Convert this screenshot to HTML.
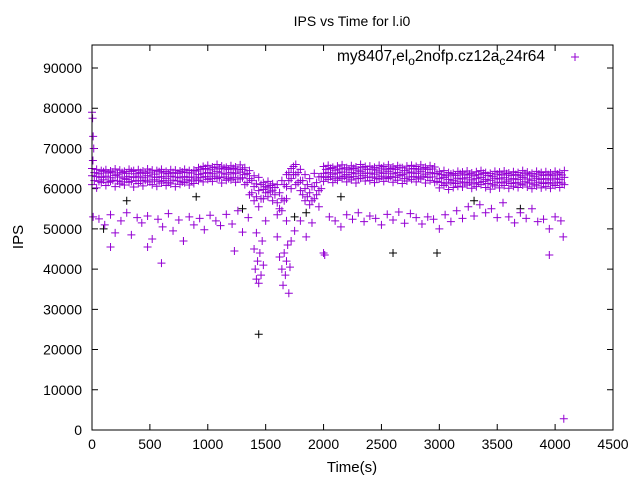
<!DOCTYPE html>
<html><head><meta charset="utf-8"><style>
html,body{margin:0;padding:0;background:#fff;}
svg{display:block;font-family:"Liberation Sans",sans-serif;}
</style></head><body>
<svg id="chart" width="640" height="480" viewBox="0 0 640 480" xmlns="http://www.w3.org/2000/svg">
<rect width="640" height="480" fill="#fff"/>
<text x="352" y="26" text-anchor="middle" font-size="14">IPS vs Time for l.i0</text>
<g id="axes"></g>
<g id="marks"></g>
<rect x="92" y="45" width="521" height="385" fill="none" stroke="#000" stroke-width="1"/>
<text x="18" y="242" font-size="15" text-anchor="middle" transform="rotate(-90 18 237)">IPS</text>
<text x="352" y="472" font-size="15" text-anchor="middle">Time(s)</text>
<g>
<text x="545" y="61" font-size="15.5" text-anchor="end">my8407<tspan font-size="12" dy="4">r</tspan><tspan dy="-4">el</tspan><tspan font-size="12" dy="4">o</tspan><tspan dy="-4">2nofp.cz12a</tspan><tspan font-size="12" dy="4">c</tspan><tspan dy="-4">24r64</tspan></text>
<path d="M571 57h8M575 53v8" stroke="#9400d3" stroke-width="1"/>
</g>
</svg>
<script>
const xTicks=[0,500,1000,1500,2000,2500,3000,3500,4000,4500];
const yTicks=[0,10000,20000,30000,40000,50000,60000,70000,80000,90000];
const tA=[0,40,80,120,160,200,240,280,320,360,400,440,480,520,560,600,640,680,720,760,800,840,880,920,960,1000,1040,1080,1120,1160,1200,1240,1280,1320,1360,1400,1440,1480,1520,1560,1600,1640,1680,1720,1760,1800,1840,1880,1920,1960,2000,2040,2080,2120,2160,2200,2240,2280,2320,2360,2400,2440,2480,2520,2560,2600,2640,2680,2720,2760,2800,2840,2880,2920,2960,3000,3040,3080,3120,3160,3200,3240,3280,3320,3360,3400,3440,3480,3520,3560,3600,3640,3680,3720,3760,3800,3840,3880,3920,3960,4000,4040,4080];
const hiA=[65000,64800,64500,64700,64400,64900,64600,64300,64800,64500,64700,64400,64900,64600,64500,64800,64300,64700,64600,64400,64800,64500,64600,65200,65500,65800,65400,66000,65600,65300,65700,65400,65900,65200,64500,63200,62800,61500,61800,61200,61000,62000,63500,65000,66000,64800,63500,62500,63800,62900,65500,65800,65300,65600,65900,65200,65700,65400,66000,65500,65600,65300,65800,65500,65900,65400,65700,65200,65600,65800,65500,65900,65300,65700,65400,64200,64500,64000,63800,64300,64100,64400,63900,64200,64500,64000,63800,64300,64100,64400,63900,64200,64000,64500,64100,63800,64300,64000,64200,63900,64300,64000,64500];
const midA=[63200,63000,62800,63100,62700,63300,62900,62600,63000,62800,63100,62700,63200,62900,62800,63000,62600,63100,62900,62700,63000,62800,62900,63500,63800,64000,63700,64200,63900,63600,64000,63700,64100,63500,62500,60500,59500,59800,60200,59600,56500,57500,60500,62500,63500,62000,60000,59000,60500,59500,63800,64000,63600,63900,64100,63500,64000,63700,64200,63800,63900,63600,64100,63800,64200,63700,64000,63500,63900,64100,63800,64200,63600,64000,63700,62500,62800,62300,62100,62600,62400,62700,62200,62500,62800,62300,62100,62600,62400,62700,62200,62500,62300,62800,62400,62100,62600,62300,62500,62200,62600,62300,62800];
const loA=[61000,60200,61500,60800,61800,60500,61200,60900,61600,60400,61300,60700,61700,61000,60600,61400,60800,61200,60500,61100,61500,60900,61300,62000,61700,62300,61800,62500,61400,62100,62200,61600,62400,61000,58500,57000,55500,57500,58000,57000,53500,54500,57500,60000,61000,59500,57000,56000,57500,55500,61800,62300,61500,62100,62500,61700,62200,61400,62600,61900,62000,61500,62400,61800,62500,61600,62100,61300,61900,62300,61700,62400,61400,62000,61600,60200,60800,59800,60300,60600,60400,60900,60100,60500,61000,60300,59900,60700,60200,60800,60100,60600,60300,60900,60400,60000,60700,60200,60500,60100,60800,60300,61000];
const tD=[20,60,100,140,180,220,260,300,340,380,420,460,500,540,580,620,660,700,740,780,820,860,900,940,980,1020,1060,1100,1140,1180,1220,1260,1300,1340,1380,1420,1460,1500,1540,1580,1620,1660,1700,1740,1780,1820,1860,1900,1940,1980,2020,2060,2100,2140,2180,2220,2260,2300,2340,2380,2420,2460,2500,2540,2580,2620,2660,2700,2740,2780,2820,2860,2900,2940,2980,3020,3060,3100,3140,3180,3220,3260,3300,3340,3380,3420,3460,3500,3540,3580,3620,3660,3700,3740,3780,3820,3860,3900,3940,3980,4020,4060];
const u1=[64000,63700,64200,63900,64100,63600,64000,63800,64300,63700,64000,63800,64100,63600,64200,63900,63700,64000,63800,64100,64000,63900,64400,64800,65000,64700,65200,64900,65100,64800,65000,64700,64800,63800,62000,61200,61000,60500,60800,60300,59000,61000,64000,65500,64000,62000,61000,60500,61500,63000,64800,65000,64600,64900,65100,64700,65000,64600,65200,64800,64900,64600,65100,64700,65000,64800,65200,64500,64900,65000,64700,65100,64800,64900,63800,63500,63200,63600,63300,63700,63400,63600,63200,63500,63800,63300,63100,63600,63400,63700,63300,63500,63200,63700,63400,63100,63600,63300,63500,63200,63600,63400];
const u2=[62000,61800,62200,61600,62100,61900,61700,62300,61800,62000,61900,62100,61700,62200,61800,62000,61600,62100,61900,61700,62200,61900,62400,62800,63000,62600,63100,62700,62900,62500,62800,62400,62700,61500,59000,58000,57500,59000,59200,58500,55000,57000,62000,63500,61500,58500,58000,57000,58500,60000,62800,63000,62600,62900,63100,62700,63000,62500,63200,62800,62900,62600,63100,62700,63000,62800,63200,62500,62900,63000,62700,63100,62800,62900,61800,61500,61200,61600,61300,61700,61400,61600,61200,61500,61800,61300,61100,61600,61400,61700,61300,61500,61200,61700,61400,61100,61600,61300,61500,61200,61600,61400];
const tB=[10,60,110,160,200,250,300,340,390,430,480,520,570,610,660,700,750,790,840,880,930,970,1020,1070,1110,1160,1210,1260,1300,1350,1750,1800,1850,1900,2050,2100,2150,2200,2250,2300,2350,2400,2450,2500,2550,2600,2650,2700,2750,2800,2850,2900,2950,3000,3050,3100,3150,3200,3250,3300,3350,3400,3450,3500,3550,3600,3650,3700,3750,3800,3850,3900,3950,4000,4050];
const vB=[53000,52500,51000,53500,49000,52000,54000,48500,52800,51500,53200,47500,52400,50500,53800,49500,52200,47000,53000,51000,52600,49800,53400,52000,50800,53600,51200,54500,49200,52800,49500,52000,48000,51500,53000,52000,50500,53500,52400,54000,51800,53200,52600,51000,53600,52200,54200,51400,53800,52800,51200,53000,52400,50000,53500,51800,54500,52600,55500,53200,56000,54000,55000,52800,56500,53000,51500,54000,52600,55000,51800,52400,50000,53000,52000];
const tC=[1400,1410,1420,1430,1440,1450,1460,1470,1480,1420,1500,1600,1620,1640,1650,1660,1670,1680,1690,1700,1710,1720,1680,0,5,10,15,8,600,3950,2000,2010,4075,4070,160,480,790,1230];
const vC=[45000,40000,37500,42000,36500,44000,38500,47000,41000,49000,52000,48000,43000,40000,36000,44000,38500,42000,46000,34000,40500,47000,52000,79000,77500,73000,70000,67000,41500,43500,44000,43500,2800,48000,45500,45500,47000,44500];
const tK=[1440,2600,2980,300,900,1750,2150,3300,3700,1850,100,1300];
const vK=[23800,44000,44000,57000,58000,53000,58000,57000,55000,54000,50000,55000];

const X0=92,X1=613,Y0=430,Y1=68;
function xs(t){return X0+t*(X1-X0)/4500;}
function ys(v){return Y0-v*(Y0-Y1)/90000;}
const NS="http://www.w3.org/2000/svg";
const axes=document.getElementById('axes');
xTicks.forEach(t=>{
  const x=xs(t);
  const p=document.createElementNS(NS,'path');
  p.setAttribute('d',`M${x} 430v-6M${x} 45v6`);
  p.setAttribute('stroke','#000');
  
  
  axes.appendChild(p);
  const l=document.createElementNS(NS,'text');
  l.setAttribute('x',x);l.setAttribute('y',449);
  l.setAttribute('text-anchor','middle');l.setAttribute('font-size','14');
  l.textContent=t;
  
  
  axes.appendChild(l);
});
yTicks.forEach(v=>{
  const y=ys(v);
  const p=document.createElementNS(NS,'path');
  p.setAttribute('d',`M92 ${y}h6M613 ${y}h-6`);
  p.setAttribute('stroke','#000');
  
  
  axes.appendChild(p);
  const l=document.createElementNS(NS,'text');
  l.setAttribute('x',82);l.setAttribute('y',y+5);
  l.setAttribute('text-anchor','end');l.setAttribute('font-size','14');
  l.textContent=v;
  
  
  axes.appendChild(l);
});
const marks=document.getElementById('marks');
function plot(ts,vs,color,name){
  let d='';
  for(let i=0;i<ts.length;i++){
    const x=xs(ts[i]),y=ys(vs[i]);
    d+=`M${x-4} ${y}h8M${x} ${y-4}v8`;
  }
  const p=document.createElementNS(NS,'path');
  p.setAttribute('d',d);p.setAttribute('stroke',color);p.setAttribute('fill','none');
  
  
  marks.appendChild(p);
}
plot(tK,vK,'#000','black-points');
plot(tB,vB,'#9400d3','lower-cluster-points');
plot(tA,loA,'#9400d3','band-low-points');
plot(tD,u2,'#9400d3','band-lower-mid-points');
plot(tA,midA,'#9400d3','band-mid-points');
plot(tD,u1,'#9400d3','band-upper-mid-points');
plot(tA,hiA,'#9400d3','band-high-points');
plot(tC,vC,'#9400d3','dip-and-outlier-points');
</script>
</body></html>
